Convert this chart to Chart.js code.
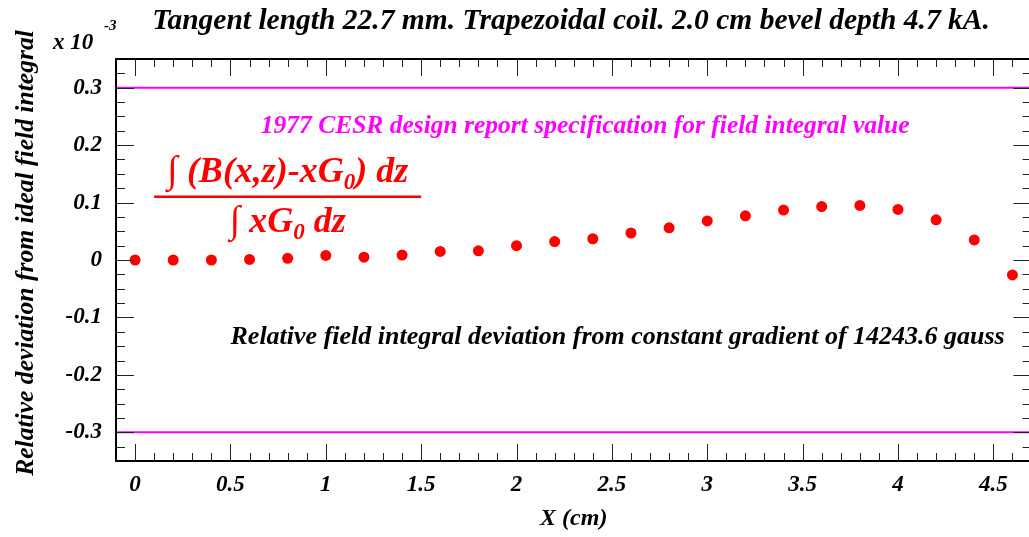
<!DOCTYPE html>
<html>
<head>
<meta charset="utf-8">
<script src="https://cdn.jsdelivr.net/npm/chart.js@4.4.1/dist/chart.umd.min.js"></script>
<style>
  html, body { margin: 0; padding: 0; background: #fff; overflow: hidden; }
  #wrap { position: relative; width: 1029px; height: 537px; overflow: hidden; }
  #inner { position: relative; width: 1037px; height: 537px; }
</style>
</head>
<body>
<div id="wrap"><div id="inner"><canvas id="myChart"></canvas></div></div>
<script>
// x position (cm) and relative deviation (x 10^-3)
const xPositions = [0, 0.2, 0.4, 0.6, 0.8, 1.0, 1.2, 1.4, 1.6, 1.8, 2.0, 2.2,
                    2.4, 2.6, 2.8, 3.0, 3.2, 3.4, 3.6, 3.8, 4.0, 4.2, 4.4, 4.6];
const deviation = [0, 0, 0, 0.001, 0.003, 0.008, 0.005, 0.0085, 0.015, 0.016, 0.025, 0.032,
                   0.037, 0.047, 0.056, 0.068, 0.077, 0.087, 0.093, 0.095, 0.088, 0.070, 0.035, -0.026];
const specUpper = 0.3;
const specLower = -0.3;
const xRange = [-0.1, 4.7];
const yRange = [-0.35, 0.35];
const xTicks = [0, 0.5, 1, 1.5, 2, 2.5, 3, 3.5, 4, 4.5];
const yTicks = [-0.3, -0.2, -0.1, 0, 0.1, 0.2, 0.3];

const serif = 'Liberation Serif';
const bi = (size) => 'italic bold ' + size + 'px "' + serif + '"';

const decor = {
  id: 'decor',
  afterDraw(chart) {
    const c = chart.ctx, a = chart.chartArea;
    const xs = chart.scales.x, ys = chart.scales.y;
    c.save();
    // inward ticks on all four sides
    c.strokeStyle = '#222';
    c.lineWidth = 1;
    c.beginPath();
    for (let i = 0; i <= 48; i++) {
      const v = -0.1 + i * 0.1;
      const px = Math.round(xs.getPixelForValue(v)) + 0.5;
      const major = Math.abs(v / 0.5 - Math.round(v / 0.5)) < 1e-6;
      const len = major ? 17 : 8;
      c.moveTo(px, a.bottom); c.lineTo(px, a.bottom - len);
      c.moveTo(px, a.top); c.lineTo(px, a.top + len);
    }
    for (let i = 0; i <= 28; i++) {
      const v = -0.35 + i * 0.025;
      const py = Math.round(ys.getPixelForValue(v)) + 0.5;
      const major = Math.abs(v / 0.1 - Math.round(v / 0.1)) < 1e-6;
      const len = major ? 18 : 9;
      c.moveTo(a.left, py); c.lineTo(a.left + len, py);
      c.moveTo(a.right, py); c.lineTo(a.right - len, py);
    }
    c.stroke();
    // frame
    c.strokeStyle = '#000';
    c.lineWidth = 2;
    c.strokeRect(a.left, a.top, a.right - a.left, a.bottom - a.top);

    // title
    c.fillStyle = '#000';
    c.textBaseline = 'alphabetic';
    c.textAlign = 'center';
    c.font = bi(29.5);
    c.fillText('Tangent length 22.7 mm. Trapezoidal coil. 2.0 cm bevel depth 4.7 kA.', 571, 29);

    // exponent label
    c.textAlign = 'left';
    c.font = bi(23);
    c.fillText('x 10', 53, 49);
    c.font = bi(15);
    c.fillText('-3', 104, 30);

    // y axis title
    c.save();
    c.translate(26, 253);
    c.rotate(-Math.PI / 2);
    c.textAlign = 'center';
    c.textBaseline = 'middle';
    c.font = bi(25.6);
    c.fillText('Relative deviation from ideal field integral', 0, 0);
    c.restore();

    // spec label
    c.textAlign = 'center';
    c.fillStyle = '#ff00ff';
    c.font = bi(25.5);
    c.fillText('1977 CESR design report specification for field integral value',
               xs.getPixelForValue(2.36), ys.getPixelForValue(0.222));

    // description
    c.fillStyle = '#000';
    c.font = bi(26);
    c.fillText('Relative field integral deviation from constant gradient of 14243.6 gauss',
               xs.getPixelForValue(2.53), ys.getPixelForValue(-0.147));

    // formula
    c.fillStyle = '#ff0000';
    c.strokeStyle = '#ff0000';
    const fx0 = xs.getPixelForValue(0.1), fx1 = xs.getPixelForValue(1.5);
    const fy = ys.getPixelForValue(0.11);
    const fc = (fx0 + fx1) / 2;
    c.lineWidth = 2.5;
    c.beginPath(); c.moveTo(fx0, fy); c.lineTo(fx1, fy); c.stroke();
    const drawParts = (parts, baseline) => {
      let w = 0;
      parts.forEach(p => { c.font = p.font; w += c.measureText(p.t).width; });
      let x = fc - w / 2;
      c.textAlign = 'left';
      parts.forEach(p => {
        c.font = p.font;
        c.fillText(p.t, x, baseline + (p.dy || 0));
        x += c.measureText(p.t).width;
      });
    };
    const big = bi(36), sub = bi(23), integ = 'bold 38px "' + serif + '"';
    drawParts([{t: '\u222B ', font: integ}, {t: '(B(x,z)-xG', font: big}, {t: '0', font: sub, dy: 7},
               {t: ') dz', font: big}], fy - 15);
    drawParts([{t: '\u222B ', font: integ}, {t: 'xG', font: big}, {t: '0', font: sub, dy: 7},
               {t: ' dz', font: big}], fy + 35);
    c.restore();
  }
};

const ctx = document.getElementById('myChart');

new Chart(ctx, {
  type: 'scatter',
  data: {
    datasets: [{
      data: xPositions.map((x, i) => ({x: x, y: deviation[i]})),
      backgroundColor: '#ff0000',
      borderWidth: 0,
      pointRadius: 5.5
    },
    {
      type: 'line',
      data: [{x: xRange[0], y: specUpper}, {x: xRange[1], y: specUpper}],
      borderColor: '#ff00ff',
      borderWidth: 2,
      pointRadius: 0
    },
    {
      type: 'line',
      data: [{x: xRange[0], y: specLower}, {x: xRange[1], y: specLower}],
      borderColor: '#ff00ff',
      borderWidth: 2,
      pointRadius: 0
    }]
  },
  options: {
    animation: false,
    responsive: true,
    maintainAspectRatio: false,
    layout: { padding: { top: 59, right: 1.5, left: 0, bottom: 0 } },
    plugins: {
      legend: { display: false },
      tooltip: { enabled: false }
    },
    scales: {
      x: {
        type: 'linear',
        min: xRange[0],
        max: xRange[1],
        afterBuildTicks: (s) => { s.ticks = xTicks.map(v => ({value: v})); },
        afterFit: (s) => { s.height = 76; },
        grid: { display: false, drawTicks: false },
        border: { display: false },
        ticks: {
          padding: 10,
          color: '#000',
          font: { family: serif, size: 23, style: 'italic', weight: 'bold' },
          callback: (v) => String(v)
        },
        title: {
          display: true,
          text: 'X (cm)',
          color: '#000',
          padding: { top: 0, bottom: 4 },
          font: { family: serif, size: 24, style: 'italic', weight: 'bold' }
        }
      },
      y: {
        type: 'linear',
        min: yRange[0],
        max: yRange[1],
        afterBuildTicks: (s) => { s.ticks = yTicks.map(v => ({value: v})); },
        afterFit: (s) => { s.width = 116; },
        grid: { display: false, drawTicks: false },
        border: { display: false },
        ticks: {
          padding: 14,
          color: '#000',
          font: { family: serif, size: 23, style: 'italic', weight: 'bold' },
          callback: (v) => String(v)
        }
      }
    }
  },
  plugins: [decor]
});
</script>
</body>
</html>
